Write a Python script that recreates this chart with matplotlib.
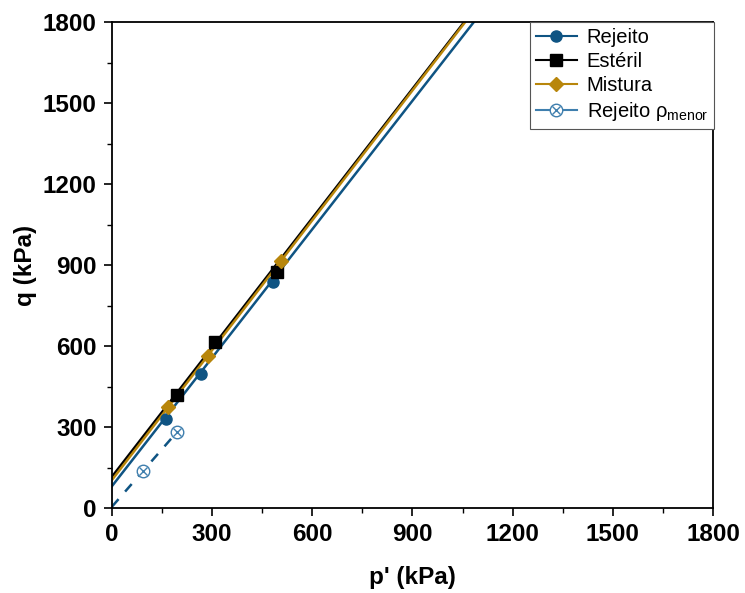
import numpy as np
import matplotlib
matplotlib.use("Agg")
import matplotlib.pyplot as plt
from matplotlib.ticker import MultipleLocator

plt.rcParams["font.family"] = ["Liberation Sans", "DejaVu Sans"]
plt.rcParams["mathtext.fontset"] = "custom"
plt.rcParams["mathtext.rm"] = "Liberation Sans"
plt.rcParams["mathtext.it"] = "Liberation Sans"
plt.rcParams["mathtext.bf"] = "Liberation Sans:bold"

# Measured points (p', q) in kPa
rejeito_p = [162, 266, 482]
rejeito_q = [330, 496, 837]
esteril_p = [194, 308, 493]
esteril_q = [419, 614, 875]
mistura_p = [169, 288, 506]
mistura_q = [375, 563, 915]
menor_p = [94, 196]
menor_q = [137, 280]

# Failure envelopes q = a + M p'
rejeito_fit = (81, 1.586)
esteril_fit = (116, 1.596)
mistura_fit = (104, 1.603)
menor_fit = (5, 1.42)

c_blue = "#0f5483"
c_black = "#000000"
c_gold = "#b8860b"
c_light = "#3f7fae"

fig = plt.figure(figsize=(7.45, 5.93), dpi=100)
ax = fig.add_axes([0.1503, 0.1433, 0.8067, 0.8196])

p_line = np.linspace(0, 1800, 200)
p_short = np.linspace(0, 185, 50)

ax.plot(p_line, rejeito_fit[0] + rejeito_fit[1] * p_line, color=c_blue, lw=1.8, zorder=2)
ax.plot(p_line, esteril_fit[0] + esteril_fit[1] * p_line, color=c_black, lw=1.8, zorder=2)
ax.plot(p_line, mistura_fit[0] + mistura_fit[1] * p_line, color=c_gold, lw=1.8, zorder=2)
ax.plot(p_short, menor_fit[0] + menor_fit[1] * p_short, color=c_blue, lw=1.8,
        ls=(0, (4, 4)), zorder=2)

ax.plot(rejeito_p, rejeito_q, "o", color=c_blue, ms=8, zorder=3)
ax.plot(esteril_p, esteril_q, "s", color=c_black, ms=8, zorder=3)
ax.plot(mistura_p, mistura_q, "D", color=c_gold, ms=7.5, zorder=3)
ax.plot(menor_p, menor_q, "o", mfc="white", mec=c_light, ms=9, mew=1.0, zorder=3)
ax.plot(menor_p, menor_q, "x", color=c_light, ms=6, mew=1.0, zorder=4)

# Legend handles
h1, = ax.plot([], [], "-o", color=c_blue, ms=8, lw=1.5)
h2, = ax.plot([], [], "-s", color=c_black, ms=8, lw=1.5)
h3, = ax.plot([], [], "-D", color=c_gold, ms=7.5, lw=1.5)
h4a, = ax.plot([], [], "-o", color=c_light, mfc="white", mec=c_light, ms=9, mew=1.0, lw=1.5)
h4b, = ax.plot([], [], "x", color=c_light, ms=6, mew=1.0)
leg = ax.legend([h1, h2, h3, (h4a, h4b)],
                ["Rejeito", "Estéril", "Mistura", r"Rejeito $\rho_{\mathrm{menor}}$"],
                loc="upper right", bbox_to_anchor=(1.002, 1.0), borderaxespad=0,
                fontsize=14.5, frameon=True, fancybox=False, framealpha=1,
                edgecolor="#555555", handlelength=2.0, handletextpad=0.5,
                labelspacing=0.25, borderpad=0.3)
leg.get_frame().set_linewidth(0.8)

ax.set_xlim(0, 1800)
ax.set_ylim(0, 1800)
ax.xaxis.set_major_locator(MultipleLocator(300))
ax.yaxis.set_major_locator(MultipleLocator(300))
ax.xaxis.set_minor_locator(MultipleLocator(150))
ax.yaxis.set_minor_locator(MultipleLocator(150))
ax.tick_params(which="major", direction="out", length=6, width=1.2, labelsize=17.5, pad=5)
ax.tick_params(which="minor", direction="out", length=3.5, width=1.0)
for lab in ax.get_xticklabels() + ax.get_yticklabels():
    lab.set_fontweight("bold")
for s in ax.spines.values():
    s.set_linewidth(1.3)

ax.set_xlabel("p' (kPa)", fontsize=17.5, fontweight="bold", labelpad=14)
ax.set_ylabel("q (kPa)", fontsize=17.5, fontweight="bold", labelpad=4)

fig.savefig("out.png", dpi=100)
